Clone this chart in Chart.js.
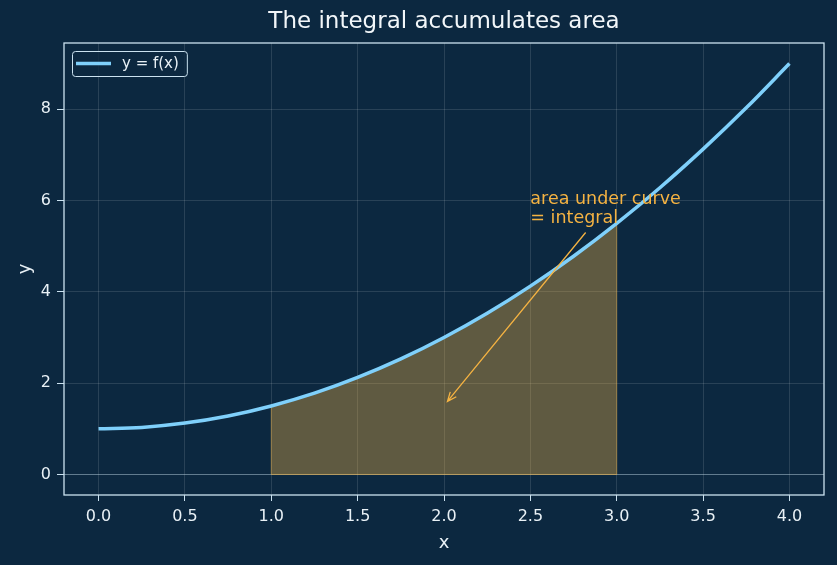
<!DOCTYPE html>
<html>
<head>
<meta charset="utf-8">
<script src="https://cdn.jsdelivr.net/npm/chart.js@4.4.1/dist/chart.umd.min.js"></script>
<style>
  html, body { margin: 0; padding: 0; background: #0c2840; }
  #wrap { width: 837px; height: 565px; }
</style>
</head>
<body>
<div id="wrap"><canvas id="chart"></canvas></div>
<script>
// curve y = f(x)
var xValues = [0, 0.25, 0.5, 0.75, 1, 1.25, 1.5, 1.75, 2, 2.25, 2.5, 2.75, 3, 3.25, 3.5, 3.75, 4];
var yValues = [1, 1.03, 1.125, 1.28, 1.5, 1.78, 2.125, 2.53, 3, 3.53, 4.125, 4.78, 5.5, 6.28, 7.125, 8.03, 9];

// shaded interval
var shadeFrom = 1;
var shadeTo = 3;

var xTicks = [0, 0.5, 1, 1.5, 2, 2.5, 3, 3.5, 4];
var yTicks = [0, 2, 4, 6, 8];

var titleText = "The integral accumulates area";
var legendText = "y = f(x)";
var noteLines = ["area under curve", "= integral"];
var noteAt = { x: 2.5, y: 5.5 };
var arrowFrom = { x: 2.82, y: 5.3 };
var arrowTo = { x: 2.02, y: 1.6 };

var bg = "#0c2840";
var curveColor = "#7fd0fb";
var orange = "#f5b342";
var spine = "#cbe2f0";
var textColor = "#e9f1f6";
var font = "'DejaVu Sans', sans-serif";

var curvePts = xValues.map(function (x, i) { return { x: x, y: yValues[i] }; });
var shadePts = curvePts.filter(function (p) { return p.x >= shadeFrom && p.x <= shadeTo; });

Chart.defaults.font.family = font;
Chart.defaults.color = textColor;

var deco = {
  id: "deco",
  beforeDraw: function (chart) {
    var c = chart.ctx;
    c.save();
    c.fillStyle = bg;
    c.fillRect(0, 0, chart.width, chart.height);
    c.restore();
  },
  beforeDatasetsDraw: function (chart) {
    // outline of the shaded region (sides and base)
    var c = chart.ctx, xs = chart.scales.x, ys = chart.scales.y;
    var p0 = shadePts[0], p1 = shadePts[shadePts.length - 1];
    var y0 = ys.getPixelForValue(0);
    c.save();
    c.strokeStyle = "rgba(245,179,66,0.5)";
    c.lineWidth = 1;
    c.beginPath();
    c.moveTo(xs.getPixelForValue(p0.x), ys.getPixelForValue(p0.y));
    c.lineTo(xs.getPixelForValue(p0.x), y0);
    c.lineTo(xs.getPixelForValue(p1.x), y0);
    c.lineTo(xs.getPixelForValue(p1.x), ys.getPixelForValue(p1.y));
    c.stroke();
    c.restore();
  },
  afterDraw: function (chart) {
    var c = chart.ctx, a = chart.chartArea;
    var xs = chart.scales.x, ys = chart.scales.y;
    c.save();
    // frame
    c.strokeStyle = spine;
    c.lineWidth = 1.3;
    c.strokeRect(a.left, a.top, a.right - a.left, a.bottom - a.top);

    // title, centred over the plot area
    c.fillStyle = "#f2f6f9";
    c.font = "23px " + font;
    c.textAlign = "center";
    c.textBaseline = "middle";
    c.fillText(titleText, (a.left + a.right) / 2, 22);

    // annotation text
    c.fillStyle = orange;
    c.font = "17.5px " + font;
    c.textAlign = "left";
    c.textBaseline = "alphabetic";
    var tx = xs.getPixelForValue(noteAt.x), ty = ys.getPixelForValue(noteAt.y);
    c.fillText(noteLines[0], tx, ty - 19);
    c.fillText(noteLines[1], tx, ty);

    // arrow
    var x1 = xs.getPixelForValue(arrowFrom.x), y1 = ys.getPixelForValue(arrowFrom.y);
    var x2 = xs.getPixelForValue(arrowTo.x), y2 = ys.getPixelForValue(arrowTo.y);
    c.strokeStyle = orange;
    c.lineWidth = 1.3;
    c.beginPath();
    c.moveTo(x1, y1);
    c.lineTo(x2, y2);
    var ang = Math.atan2(y2 - y1, x2 - x1);
    c.moveTo(x2 - 10 * Math.cos(ang - 0.4), y2 - 10 * Math.sin(ang - 0.4));
    c.lineTo(x2, y2);
    c.lineTo(x2 - 10 * Math.cos(ang + 0.4), y2 - 10 * Math.sin(ang + 0.4));
    c.stroke();

    // legend
    c.font = "15px " + font;
    var tw = c.measureText(legendText).width;
    var fx = a.left + 8, fy = a.top + 8, fh = 25, fw = 58 + tw;
    c.fillStyle = "rgba(12,40,64,0.8)";
    c.strokeStyle = spine;
    c.lineWidth = 1;
    c.beginPath();
    c.roundRect(fx + 0.5, fy + 0.5, fw, fh, 3);
    c.fill();
    c.stroke();
    c.strokeStyle = curveColor;
    c.lineWidth = 3.5;
    c.beginPath();
    c.moveTo(fx + 4, fy + 12.5);
    c.lineTo(fx + 39, fy + 12.5);
    c.stroke();
    c.fillStyle = textColor;
    c.textBaseline = "middle";
    c.fillText(legendText, fx + 50, fy + 13);
    c.restore();
  }
};

new Chart(document.getElementById("chart"), {
  type: "line",
  data: {
    datasets: [{
      label: legendText,
      data: curvePts,
      borderColor: curveColor,
      borderWidth: 3.5,
      pointRadius: 0,
      cubicInterpolationMode: "monotone",
      fill: false,
      order: 1
    }, {
      label: "area",
      data: shadePts,
      borderColor: "rgba(245,179,66,0.5)",
      borderWidth: 1,
      backgroundColor: "rgba(245,179,66,0.36)",
      pointRadius: 0,
      cubicInterpolationMode: "monotone",
      fill: "origin",
      order: 2
    }]
  },
  options: {
    responsive: true,
    maintainAspectRatio: false,
    animation: false,
    layout: { padding: { left: 0, right: 13, top: 43, bottom: 0 } },
    plugins: {
      title: { display: false },
      legend: { display: false },
      tooltip: { enabled: false }
    },
    scales: {
      x: {
        type: "linear",
        min: -0.2,
        max: 4.2,
        afterBuildTicks: function (s) { s.ticks = xTicks.map(function (v) { return { value: v }; }); },
        afterFit: function (s) { s.height = 70; },
        border: { display: false },
        grid: { color: "rgba(255,255,255,0.12)", tickColor: spine, tickLength: 6, lineWidth: 1 },
        ticks: {
          color: textColor,
          font: { size: 16 },
          padding: 6,
          maxRotation: 0,
          callback: function (v) { return Number(v).toFixed(1); }
        },
        title: { display: true, text: "x", color: textColor, font: { size: 18 }, padding: { top: 0, bottom: 11 } }
      },
      y: {
        type: "linear",
        min: -0.45,
        max: 9.45,
        afterBuildTicks: function (s) { s.ticks = yTicks.map(function (v) { return { value: v }; }); },
        afterFit: function (s) { s.width = 64; },
        border: { display: false },
        grid: {
          color: function (ctx) { return ctx.tick && ctx.tick.value === 0 ? "rgba(203,226,240,0.45)" : "rgba(255,255,255,0.12)"; },
          tickColor: spine,
          tickLength: 7,
          lineWidth: 1
        },
        ticks: {
          color: textColor,
          font: { size: 16 },
          padding: 6,
          callback: function (v) { return String(v); }
        },
        title: { display: true, text: "y", color: textColor, font: { size: 18 }, padding: { top: 15, bottom: 0 } }
      }
    }
  },
  plugins: [deco]
});
</script>
</body>
</html>
